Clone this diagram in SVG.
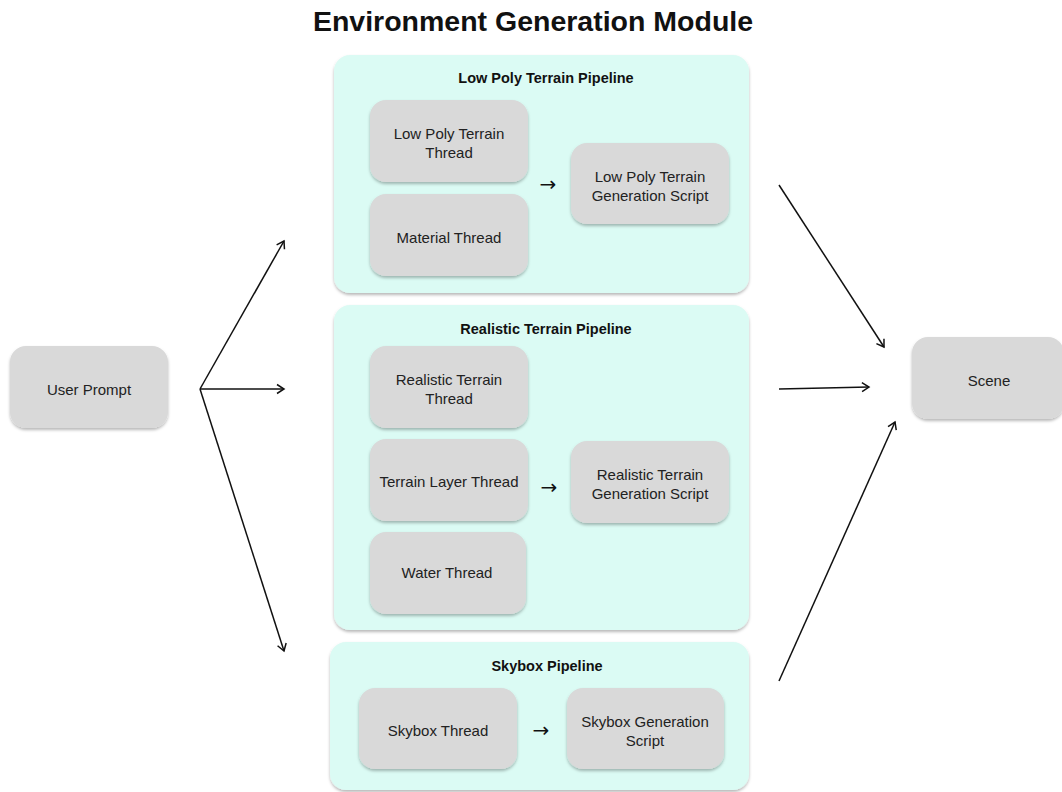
<svg xmlns="http://www.w3.org/2000/svg" width="1062" height="792" viewBox="0 0 1062 792">
<defs>
<filter id="sh" x="-10%" y="-10%" width="120%" height="130%">
<feDropShadow dx="0" dy="2" stdDeviation="1.5" flood-color="#000" flood-opacity="0.28"/>
</filter>
<marker id="arr" markerWidth="14" markerHeight="14" refX="10" refY="7" orient="auto" markerUnits="userSpaceOnUse">
<path d="M3,2.5 L10,7 L3,11.5" fill="none" stroke="#111" stroke-width="1.5"/>
</marker>
<style>
.bg{fill:#fff}
.pipe{fill:#dbfbf4;filter:url(#sh)}
.box{fill:#d9d9d9;filter:url(#sh)}
.t{font-family:"Liberation Sans",Arial,sans-serif;font-size:15px;fill:#222;text-anchor:middle}
.pt{font-family:"Liberation Sans",Arial,sans-serif;font-size:14.5px;font-weight:bold;fill:#111;text-anchor:middle}
.title{font-family:"Liberation Sans",Arial,sans-serif;font-size:28.5px;font-weight:bold;fill:#111;text-anchor:middle}
.ar{font-family:"Noto Sans","DejaVu Sans",sans-serif;font-size:20px;fill:#111;text-anchor:middle}
.c{stroke:#111;stroke-width:1.5;fill:none;marker-end:url(#arr)}
</style>
</defs>
<rect class="bg" x="0" y="0" width="1062" height="792"/>
<text class="title" x="533" y="31">Environment Generation Module</text>

<g id="lowpoly-pipeline">
<rect class="pipe" x="334" y="55" width="415" height="238" rx="16"/>
<text class="pt" x="546" y="83">Low Poly Terrain Pipeline</text>
<g id="lp-terrain-thread"><rect class="box" x="370" y="100" width="158" height="82" rx="16"/><text class="t" x="449" y="139">Low Poly Terrain</text><text class="t" x="449" y="158">Thread</text></g>
<g id="lp-material-thread"><rect class="box" x="370" y="194" width="158" height="82" rx="16"/><text class="t" x="449" y="243">Material Thread</text></g>
<g id="lp-gen-script"><rect class="box" x="571" y="143" width="158" height="81" rx="16"/><text class="t" x="650" y="182">Low Poly Terrain</text><text class="t" x="650" y="201">Generation Script</text></g>
<text class="ar" x="548" y="191">→</text>
</g>

<g id="realistic-pipeline">
<rect class="pipe" x="334" y="305" width="415" height="325" rx="16"/>
<text class="pt" x="546" y="334">Realistic Terrain Pipeline</text>
<g id="re-terrain-thread"><rect class="box" x="370" y="346" width="158" height="82" rx="16"/><text class="t" x="449" y="385">Realistic Terrain</text><text class="t" x="449" y="404">Thread</text></g>
<g id="re-layer-thread"><rect class="box" x="370" y="439" width="158" height="82" rx="16"/><text class="t" x="449" y="487">Terrain Layer Thread</text></g>
<g id="re-water-thread"><rect class="box" x="370" y="532" width="156" height="82" rx="16"/><text class="t" x="447" y="578">Water Thread</text></g>
<g id="re-gen-script"><rect class="box" x="571" y="441" width="158" height="82" rx="16"/><text class="t" x="650" y="480">Realistic Terrain</text><text class="t" x="650" y="499">Generation Script</text></g>
<text class="ar" x="549" y="494">→</text>
</g>

<g id="skybox-pipeline">
<rect class="pipe" x="330" y="642" width="419" height="148" rx="16"/>
<text class="pt" x="547" y="671">Skybox Pipeline</text>
<g id="sky-thread"><rect class="box" x="359" y="688" width="158" height="81" rx="16"/><text class="t" x="438" y="736">Skybox Thread</text></g>
<g id="sky-gen-script"><rect class="box" x="567" y="688" width="157" height="81" rx="16"/><text class="t" x="645" y="727">Skybox Generation</text><text class="t" x="645" y="746">Script</text></g>
<text class="ar" x="541" y="737">→</text>
</g>

<g id="user-prompt"><rect class="box" x="10" y="346" width="158" height="82" rx="16"/><text class="t" x="89" y="395">User Prompt</text></g>
<g id="scene"><rect class="box" x="912" y="337" width="152" height="82" rx="16"/><text class="t" x="989" y="386">Scene</text></g>

<g id="connectors">
<line class="c" x1="200" y1="389" x2="284" y2="241"/>
<line class="c" x1="200" y1="389" x2="284" y2="389"/>
<line class="c" x1="200" y1="389" x2="284" y2="651"/>
<line class="c" x1="779" y1="185" x2="884" y2="347"/>
<line class="c" x1="779" y1="389" x2="869" y2="387"/>
<line class="c" x1="779" y1="681" x2="895" y2="422"/>
</g>
</svg>
